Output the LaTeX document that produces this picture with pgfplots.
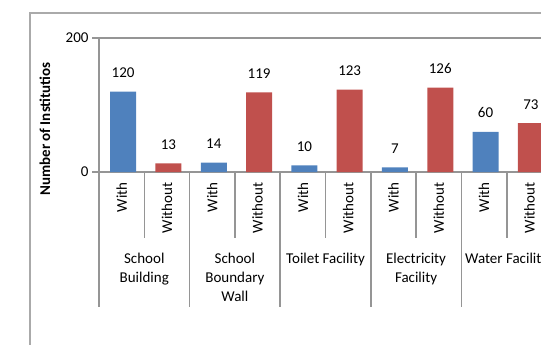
\documentclass[border=0pt]{standalone}
\usepackage{pgfplots}
\pgfplotsset{compat=1.18}
\usepackage{fontspec}
\setmainfont{Carlito}

\definecolor{withblue}{HTML}{4F81BD}
\definecolor{withoutred}{HTML}{C0504D}
\definecolor{axisgray}{HTML}{959595}
\definecolor{framegray}{HTML}{AAAAAA}

\begin{document}
\begin{tikzpicture}[font=\fontsize{15}{19}\selectfont]
\path[use as bounding box, clip] (0pt,0pt) rectangle (541pt,-345pt);
% chart area frame (runs off the page on the right and bottom)
\draw[framegray, line width=1.3pt] (30pt,-400pt) -- (30pt,-13pt) -- (600pt,-13pt);

\begin{axis}[
    at={(99pt,-172pt)}, anchor=south west,
    scale only axis, width=453pt, height=134pt,
    xmin=-0.5, xmax=9.5, ymin=0, ymax=200,
    axis x line*=bottom, axis y line*=left,
    axis line style={axisgray, line width=1.6pt},
    ytick={0,200}, ymajorgrids,
    grid style={axisgray, line width=1.6pt},
    tick align=outside, major tick length=7pt,
    ytick style={axisgray, line width=1.6pt},
    xtick={0,...,9}, xtick style={draw=none},
    xticklabels={With,Without,With,Without,With,Without,With,Without,With,Without},
    xticklabel style={rotate=90, anchor=east},
    /pgf/number format/assume math mode=true,
    ybar, bar width=26pt, bar shift=1.5pt,
    nodes near coords,
    every node near coord/.append style={inner sep=0pt, yshift=13.5pt, black},
    clip=false,
]
\addplot[fill=withblue, draw=none] coordinates {(0,120) (2,14) (4,10) (6,7) (8,60)};
\addplot[fill=withoutred, draw=none] coordinates {(1,13) (3,119) (5,123) (7,126) (9,73)};

% group separators and inner separators below the axis
\pgfplotsinvokeforeach{-0.5,1.5,3.5,5.5,7.5,9.5}{
  \draw[axisgray, line width=1.6pt] (axis cs:#1,0) -- ++(0pt,-135pt);
}
\pgfplotsinvokeforeach{0.5,2.5,4.5,6.5,8.5}{
  \draw[axisgray, line width=1.6pt] (axis cs:#1,0) -- ++(0pt,-66pt);
}

% category names
\node[anchor=north, align=center, inner sep=0pt, yshift=-81pt] at (axis cs:0.5,0) {School\\Building};
\node[anchor=north, align=center, inner sep=0pt, yshift=-81pt] at (axis cs:2.5,0) {School\\Boundary\\Wall};
\node[anchor=north, align=center, inner sep=0pt, yshift=-81pt] at (axis cs:4.5,0) {Toilet Facility};
\node[anchor=north, align=center, inner sep=0pt, yshift=-81pt] at (axis cs:6.5,0) {Electricity\\Facility};
\node[anchor=north, align=center, inner sep=0pt, yshift=-81pt] at (axis cs:8.5,0) {Water Facility};
\end{axis}

\node[rotate=90, font=\fontsize{15}{19}\selectfont\bfseries] at (45pt,-129pt) {Number of Institutios};
\end{tikzpicture}
\end{document}
